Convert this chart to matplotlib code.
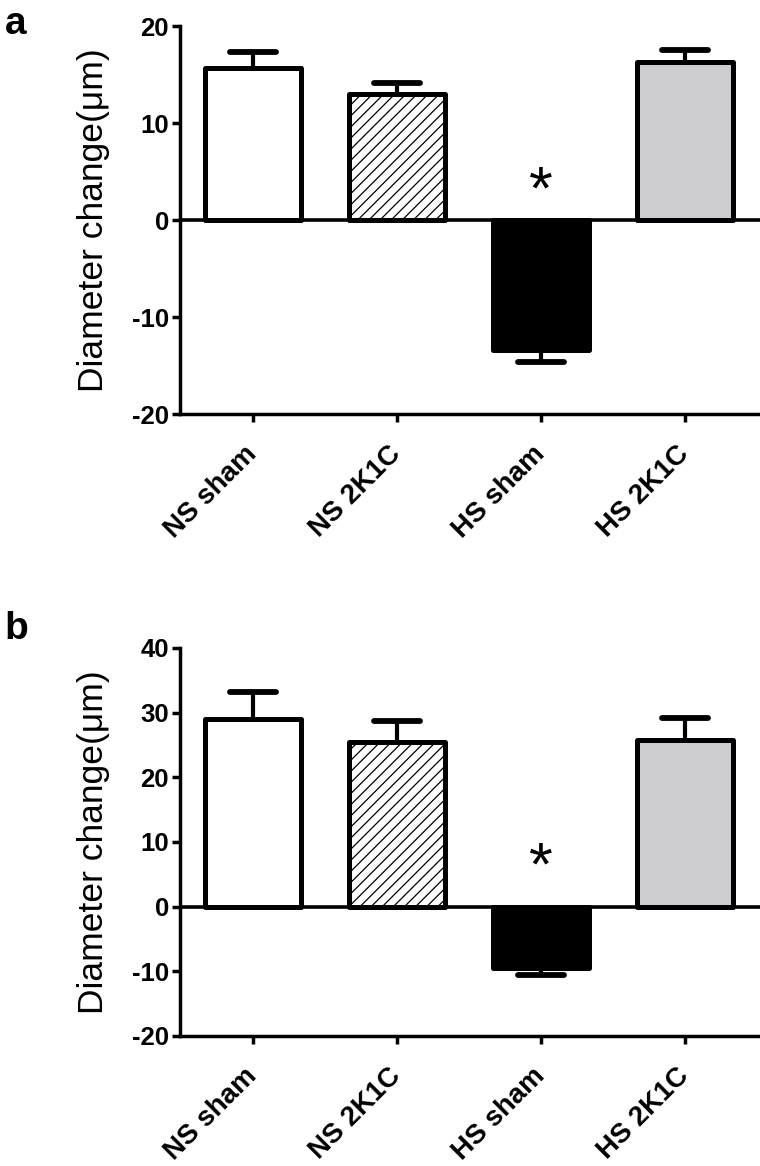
import matplotlib
matplotlib.use("Agg")
import matplotlib.pyplot as plt
import numpy as np

plt.rcParams['font.family'] = ['Liberation Sans', 'DejaVu Sans']
plt.rcParams['hatch.linewidth'] = 0.9

groups = ["NS sham", "NS 2K1C", "HS sham", "HS 2K1C"]
a_means = [15.7, 13.0, -13.4, 16.3]
a_errs = [1.6, 1.1, 1.2, 1.2]
b_means = [29.0, 25.5, -9.5, 25.7]
b_errs = [4.2, 3.2, 1.0, 3.5]
a_ticks = [-20, -10, 0, 10, 20]
b_ticks = [-20, -10, 0, 10, 20, 30, 40]
sig_index = 2
a_star_y = 2.8
b_star_y = 5.9

fills = ["white", "white", "black", "#cdcdcf"]
hatches = [None, "///", None, None]

fig = plt.figure(figsize=(7.6, 11.66), dpi=100)

def panel(rect, means, errs, ticks, star_y, letter, letter_y):
    ax = fig.add_axes(rect)
    x = np.arange(len(groups))
    ax.axhline(0, color="black", lw=2.6, zorder=1)
    bars = ax.bar(x, means, width=0.67, color=fills, edgecolor="black",
                  linewidth=3.6, zorder=3)
    for b, h in zip(bars, hatches):
        b.set_joinstyle("round")
        if h:
            b.set_hatch(h)
    lower = [e if m < 0 else 0 for m, e in zip(means, errs)]
    upper = [0 if m < 0 else e for m, e in zip(means, errs)]
    ax.errorbar(x, means, yerr=[lower, upper], fmt="none", ecolor="black",
                elinewidth=3.0, capsize=0, zorder=2)
    cap_y = [m - lo + up for m, lo, up in zip(means, lower, upper)]
    caps = ax.hlines(cap_y, x - 0.16, x + 0.16, colors="black", linewidth=4.2, zorder=2)
    caps.set_capstyle("round")
    ax.text(x[sig_index], star_y, "*", ha="center", va="center",
            fontsize=44, zorder=5)
    ax.set_xlim(-0.507, 3.521)
    ax.set_ylim(ticks[0], ticks[-1])
    ax.set_yticks(ticks)
    ax.set_yticklabels([str(t) for t in ticks], fontsize=18.5, fontweight="bold")
    ax.set_xticks(x)
    ax.set_xticklabels(groups, rotation=45, ha="right", va="center",
                       rotation_mode="anchor", fontsize=20, fontweight="bold")
    for s in ["top", "right"]:
        ax.spines[s].set_visible(False)
    for s in ["left", "bottom"]:
        ax.spines[s].set_linewidth(2.5)
    ax.tick_params(axis="both", width=2.5, length=6, direction="out", pad=2)
    ax.tick_params(axis="x", pad=20)
    ax.set_ylabel("Diameter change(μm)", fontsize=25.5)
    ax.yaxis.set_label_coords(-0.12, 0.5)
    fig.text(0.006, letter_y, letter, fontsize=28, fontweight="bold", va="top")
    return ax

panel([0.2368, 0.6449, 0.7632, 0.3328], a_means, a_errs, a_ticks, a_star_y, "a", 1 - 6 / 1166)
panel([0.2368, 0.1115, 0.7632, 0.3328], b_means, b_errs, b_ticks, b_star_y, "b", 1 - 611 / 1166)

fig.savefig("out.png", dpi=100)
